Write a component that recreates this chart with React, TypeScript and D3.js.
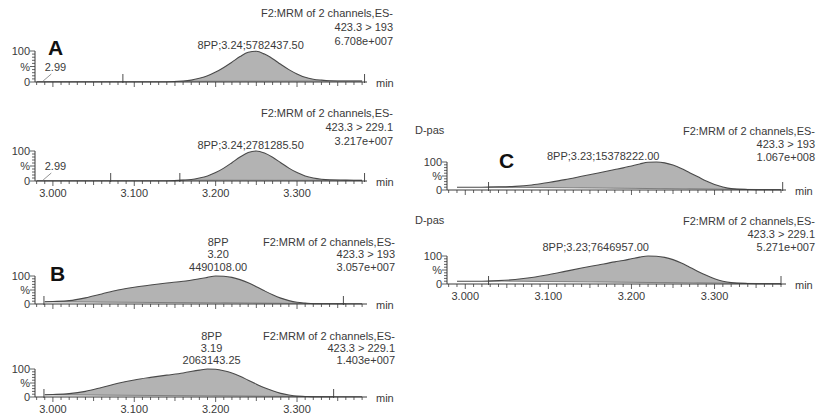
import React from "react";
import * as d3 from "d3";

// retention times (min) and relative intensities (%)
const timesA = [2.98, 2.99, 3.0, 3.02, 3.04, 3.06, 3.08, 3.1, 3.12, 3.14, 3.16, 3.17, 3.18, 3.19, 3.2, 3.21, 3.22, 3.23, 3.24, 3.25, 3.26, 3.27, 3.28, 3.29, 3.3, 3.31, 3.32, 3.33, 3.34, 3.36, 3.38];
const aTop = [1, 1, 1, 1, 1, 1, 1, 1, 1, 1, 3, 6, 12, 20, 32, 47, 64, 82, 96, 99, 90, 75, 57, 40, 26, 15, 9, 6, 4, 3, 3];
const aBottom = [1, 1, 1, 1, 1, 1, 1, 1, 1, 1, 3, 5, 10, 17, 28, 43, 61, 80, 95, 100, 93, 79, 61, 43, 28, 17, 10, 6, 4, 3, 2];

const timesBC = [2.99, 3.0, 3.02, 3.04, 3.06, 3.08, 3.1, 3.12, 3.14, 3.16, 3.18, 3.19, 3.2, 3.21, 3.22, 3.23, 3.24, 3.25, 3.26, 3.27, 3.28, 3.29, 3.3, 3.31, 3.32, 3.34, 3.36, 3.38];
const bTop = [8, 9, 12, 22, 36, 50, 60, 68, 75, 81, 90, 95, 100, 99, 95, 87, 76, 62, 47, 33, 21, 12, 6, 3, 1, 1, 1, 1];
const bBottom = [8, 9, 12, 20, 34, 49, 61, 70, 78, 86, 96, 100, 99, 94, 86, 74, 60, 46, 33, 22, 13, 7, 3, 2, 1, 1, 1, 1];
const cTop = [10, 10, 10, 11, 13, 18, 27, 37, 49, 61, 73, 79, 86, 93, 99, 100, 97, 89, 77, 62, 47, 32, 20, 11, 5, 2, 1, 1];
const cBottom = [10, 10, 10, 12, 16, 23, 33, 45, 57, 68, 79, 84, 90, 96, 100, 99, 95, 87, 75, 60, 45, 31, 19, 10, 5, 2, 1, 1];

const xTickLabels = [3.0, 3.1, 3.2, 3.3];
const channel193 = ["F2:MRM of 2 channels,ES-", "423.3 > 193"];
const channel229 = ["F2:MRM of 2 channels,ES-", "423.3 > 229.1"];

const tDomain = [2.978, 3.386];
const FONT = "'Liberation Sans', Arial, sans-serif";
const INK = "#3a3a3a";

function valueAt(times, vals, t) {
  const i = d3.bisectLeft(times, t);
  if (i <= 0) return vals[0];
  if (i >= times.length) return vals[vals.length - 1];
  const k = (t - times[i - 1]) / (times[i] - times[i - 1]);
  return vals[i - 1] + (vals[i] - vals[i - 1]) * k;
}

const panels = [
  {
    key: "aTop", times: timesA, values: aTop, left: 35, right: 367, y0: 82, y100: 51,
    header: [...channel193, "6.708e+007"], headerX: 393, headerY: [17, 31, 45],
    label: ["8PP;3.24;5782437.50"], labelT: 3.243, labelY: [49],
    integ: [3.15, 3.38], markers: [3.086, 3.383], ticks: false, small: "2.99",
    letter: "A", letterX: 48, letterY: 55,
  },
  {
    key: "aBottom", times: timesA, values: aBottom, left: 35, right: 367, y0: 181, y100: 151,
    header: [...channel229, "3.217e+007"], headerX: 393, headerY: [117, 131, 145],
    label: ["8PP;3.24;2781285.50"], labelT: 3.243, labelY: [149],
    integ: [3.156, 3.38], markers: [3.071, 3.156, 3.383], ticks: true, small: "2.99",
  },
  {
    key: "bTop", times: timesBC, values: bTop, left: 35, right: 367, y0: 304, y100: 276,
    header: [...channel193, "3.057e+007"], headerX: 395, headerY: [246, 258, 271],
    label: ["8PP", "3.20", "4490108.00"], labelT: 3.203, labelY: [246, 258, 271],
    integ: [2.99, 3.36], markers: [2.989, 3.357], ticks: false,
    letter: "B", letterX: 50, letterY: 281,
  },
  {
    key: "bBottom", times: timesBC, values: bBottom, left: 35, right: 367, y0: 397, y100: 369,
    header: [...channel229, "1.403e+007"], headerX: 395, headerY: [340, 352, 364],
    label: ["8PP", "3.19", "2063143.25"], labelT: 3.195, labelY: [340, 352, 364],
    integ: [2.99, 3.345], markers: [2.989, 3.345], ticks: true,
  },
  {
    key: "cTop", times: timesBC, values: cTop, left: 447, right: 786, y0: 190, y100: 162,
    header: [...channel193, "1.067e+008"], headerX: 815, headerY: [135, 148, 161],
    label: ["8PP;3.23;15378222.00"], labelT: 3.166, labelY: [160],
    integ: [3.028, 3.38], markers: [3.028, 3.382], ticks: false, dpas: 134,
    letter: "C", letterX: 499, letterY: 168,
  },
  {
    key: "cBottom", times: timesBC, values: cBottom, left: 447, right: 786, y0: 284, y100: 256,
    header: [...channel229, "5.271e+007"], headerX: 815, headerY: [225, 238, 251],
    label: ["8PP;3.23;7646957.00"], labelT: 3.157, labelY: [251],
    integ: [3.028, 3.38], markers: [3.028, 3.38], ticks: true, dpas: 224,
  },
];

function Panel({ p }) {
  const x = d3.scaleLinear().domain(tDomain).range([p.left, p.right]);
  const y = d3.scaleLinear().domain([0, 100]).range([p.y0, p.y100]);
  const pts = p.times.map((t, i) => [t, p.values[i]]);

  const line = d3.line().x((d) => x(d[0])).y((d) => y(d[1])).curve(d3.curveMonotoneX);
  const [s, e] = p.integ;
  const vs = valueAt(p.times, p.values, s);
  const ve = valueAt(p.times, p.values, e);
  const base = d3.scaleLinear().domain([s, e]).range([vs, ve]);
  const inner = [[s, vs], ...pts.filter((d) => d[0] > s && d[0] < e), [e, ve]];
  const area = d3.area()
    .x((d) => x(d[0]))
    .y0((d) => y(base(d[0])))
    .y1((d) => y(d[1]))
    .curve(d3.curveMonotoneX);

  const minor = d3.range(298, 339).map((i) => i / 100);
  const yTicks = d3.range(0, 101, 10);

  return (
    <g>
      {p.header.map((h, i) => (
        <text key={"h" + i} x={p.headerX} y={p.headerY[i]} textAnchor="end">{h}</text>
      ))}
      {p.label.map((l, i) => (
        <text key={"l" + i} x={x(p.labelT)} y={p.labelY[i]} textAnchor="middle">{l}</text>
      ))}
      {p.letter && (
        <text x={p.letterX} y={p.letterY} fontSize={21} fontWeight="bold" fill="#111">{p.letter}</text>
      )}
      {p.dpas && <text x={415} y={p.dpas}>D-pas</text>}

      <path d={area(inner)} fill="#b3b3b3" stroke="none" />
      <line x1={x(s)} x2={x(e)} y1={y(vs)} y2={y(ve)} stroke="#666" strokeWidth={0.8} />
      <path d={line(pts)} fill="none" stroke="#4a4a4a" strokeWidth={1.1} />

      {/* y axis */}
      <line x1={p.left} x2={p.left} y1={p.y0} y2={p.y100} stroke={INK} />
      {yTicks.map((v) => (
        <line key={"yt" + v} x1={p.left} x2={p.left - (v % 50 === 0 ? 5 : 3)} y1={y(v)} y2={y(v)} stroke={INK} strokeWidth={0.8} />
      ))}
      <text x={p.left - 5} y={y(100) + 4} textAnchor="end">100</text>
      <text x={p.left - 5} y={y(50) + 4} textAnchor="end">%</text>
      <text x={p.left - 5} y={y(0) + 4} textAnchor="end">0</text>

      {/* x axis */}
      <line x1={p.left} x2={p.right} y1={p.y0} y2={p.y0} stroke={INK} />
      {minor.map((t) => {
        const r = Math.round(t * 100);
        const len = r % 10 === 0 ? 5 : r % 5 === 0 ? 4 : 3;
        return <line key={"xt" + r} x1={x(t)} x2={x(t)} y1={p.y0} y2={p.y0 + len} stroke={INK} strokeWidth={0.8} />;
      })}
      {p.markers.map((t, i) => (
        <line key={"m" + i} x1={x(t)} x2={x(t)} y1={p.y0 - 8} y2={p.y0 + 1} stroke={INK} strokeWidth={0.9} />
      ))}
      {p.ticks && xTickLabels.map((t) => (
        <text key={"tl" + t} x={x(t)} y={p.y0 + 16} textAnchor="middle">{t.toFixed(3)}</text>
      ))}
      <text x={p.right + 9} y={p.y0 + 5}>min</text>

      {p.small && (
        <g>
          <line x1={x(2.988)} y1={p.y0 - 1} x2={x(2.998)} y2={p.y0 - 8} stroke="#777" strokeWidth={0.8} />
          <text x={x(2.99)} y={p.y0 - 11}>{p.small}</text>
        </g>
      )}
    </g>
  );
}

export default function App() {
  return (
    <svg
      width={818}
      height={417}
      style={{ position: "absolute", left: 0, top: 0, background: "#fff" }}
      fontFamily={FONT}
      fontSize={11}
      fill={INK}
    >
      {panels.map((p) => (
        <Panel key={p.key} p={p} />
      ))}
    </svg>
  );
}
